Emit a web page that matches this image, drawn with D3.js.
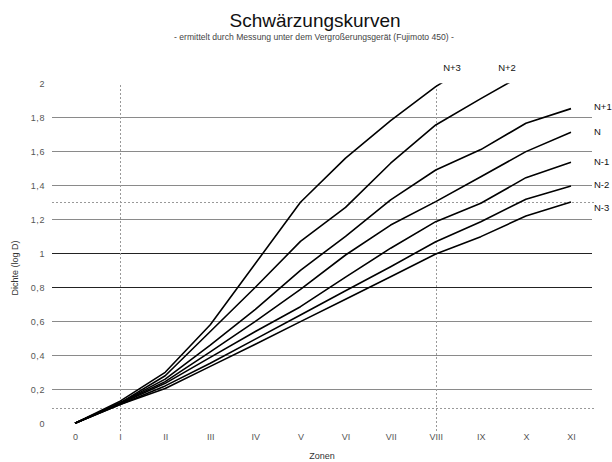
<!DOCTYPE html>
<html><head><meta charset="utf-8">
<script src="https://cdn.jsdelivr.net/npm/d3@7"></script>
<style>
html,body{margin:0;padding:0;background:#fff;}
svg{display:block;}
text{font-family:"Liberation Sans",Arial,sans-serif;}
</style></head>
<body><svg id="c" width="612" height="462"></svg>
<script>
const zones = ["0","I","II","III","IV","V","VI","VII","VIII","IX","X","XI"];
const yTicks = [0,0.2,0.4,0.6,0.8,1,1.2,1.4,1.6,1.8,2];
const darkGrid = [0.8,1];
const refDensities = [0.09,1.3];
const refZones = [1,8];
const seriesNames = ["N+3","N+2","N+1","N","N-1","N-2","N-3"];
const sNp3 = [0,0.13,0.30,0.58,0.94,1.30,1.56,1.78,1.98,2.15];
const sNp2 = [0,0.12,0.28,0.54,0.80,1.07,1.27,1.53,1.755,1.91,2.06];
const sNp1 = [0,0.12,0.26,0.46,0.67,0.90,1.10,1.314,1.49,1.61,1.765,1.851];
const sN   = [0,0.12,0.245,0.42,0.60,0.788,0.99,1.166,1.304,1.45,1.598,1.712];
const sNm1 = [0,0.115,0.235,0.388,0.54,0.686,0.86,1.03,1.186,1.294,1.445,1.535];
const sNm2 = [0,0.11,0.22,0.353,0.495,0.637,0.78,0.921,1.068,1.186,1.318,1.396];
const sNm3 = [0,0.11,0.205,0.335,0.465,0.598,0.73,0.862,0.996,1.098,1.219,1.302];
const seriesValues = [sNp3,sNp2,sNp1,sN,sNm1,sNm2,sNm3];
const title = "Schwärzungskurven";
const subtitle = "- ermittelt durch Messung unter dem Vergroßerungsgerät (Fujimoto 450) -";
const xTitle = "Zonen";
const yTitle = "Dichte (log D)";

const svg = d3.select("#c");
const x = d3.scaleLinear().domain([0,11]).range([75,571]);
const y = d3.scaleLinear().domain([0,2]).range([423.3,83.3]);
const gx0 = 52, gx1 = 592;

svg.append("text").attr("x",315).attr("y",27).attr("text-anchor","middle")
  .attr("font-size",19).attr("fill","#111").text(title);
svg.append("text").attr("x",314).attr("y",40).attr("text-anchor","middle")
  .attr("font-size",8.6).attr("fill","#444").text(subtitle);

// gridlines
svg.append("g").selectAll("line").data(yTicks.filter(d=>d>0 && d<2)).join("line")
  .attr("x1",gx0).attr("x2",gx1)
  .attr("y1",d=>Math.round(y(d))+0.5).attr("y2",d=>Math.round(y(d))+0.5)
  .attr("stroke",d=>darkGrid.includes(d)?"#222":"#8a8a8a")
  .attr("stroke-width",d=>darkGrid.includes(d)?1.2:1);

// reference dotted lines
svg.append("g").selectAll("line").data(refDensities).join("line")
  .attr("x1",gx0).attr("x2",gx1+2)
  .attr("y1",d=>Math.round(y(d))+0.5).attr("y2",d=>Math.round(y(d))+0.5)
  .attr("stroke","#999").attr("stroke-dasharray","2,2");
svg.append("g").selectAll("line").data(refZones).join("line")
  .attr("x1",d=>Math.round(x(d))+0.5).attr("x2",d=>Math.round(x(d))+0.5)
  .attr("y1",85).attr("y2",433)
  .attr("stroke","#999").attr("stroke-dasharray","2,2");

// y axis labels
const yAxis = d3.axisLeft(y).tickValues(yTicks).tickSize(0).tickPadding(0)
  .tickFormat(d=>String(d).replace(".",","));
const ga = svg.append("g").attr("transform","translate(45,0)").call(yAxis);
ga.select(".domain").remove();
ga.selectAll("text").attr("font-size",9).attr("fill","#555").attr("letter-spacing","0.6px")
  .attr("font-family","Liberation Sans, Arial, sans-serif");

// x axis labels
const xAxis = d3.axisBottom(x).tickValues(d3.range(zones.length)).tickSize(0).tickPadding(0)
  .tickFormat(i=>zones[i]);
const gb = svg.append("g").attr("transform","translate(0,434)").call(xAxis);
gb.select(".domain").remove();
gb.selectAll("text").attr("font-size",9).attr("fill","#555")
  .attr("font-family","Liberation Sans, Arial, sans-serif");

svg.append("text").attr("x",322).attr("y",459).attr("text-anchor","middle")
  .attr("font-size",9).attr("fill","#333").text(xTitle);
svg.append("text").attr("transform","translate(18,268) rotate(-90)").attr("text-anchor","middle")
  .attr("font-size",9).attr("fill","#333").text(yTitle);

// curves
svg.append("defs").append("clipPath").attr("id","clip").append("rect")
  .attr("x",0).attr("y",y(2)).attr("width",612).attr("height",y(0)-y(2)+5);
const line = d3.line().x((d,i)=>x(i)).y(d=>y(d));
svg.append("g").attr("clip-path","url(#clip)").selectAll("path").data(seriesValues).join("path")
  .attr("d",line).attr("fill","none").attr("stroke","#000").attr("stroke-width",1.6)
  .attr("stroke-linejoin","round");

// series labels
const labelPos = [[452,67],[507,67],[594,106],[594,131],[594,161],[594,184],[594,207]];
svg.append("g").selectAll("text").data(seriesNames).join("text")
  .attr("x",(d,i)=>labelPos[i][0]).attr("y",(d,i)=>labelPos[i][1]+3.5)
  .attr("text-anchor",(d,i)=>i<2?"middle":"start")
  .attr("font-size",9.5).attr("fill","#111").text(d=>d);
</script></body></html>
